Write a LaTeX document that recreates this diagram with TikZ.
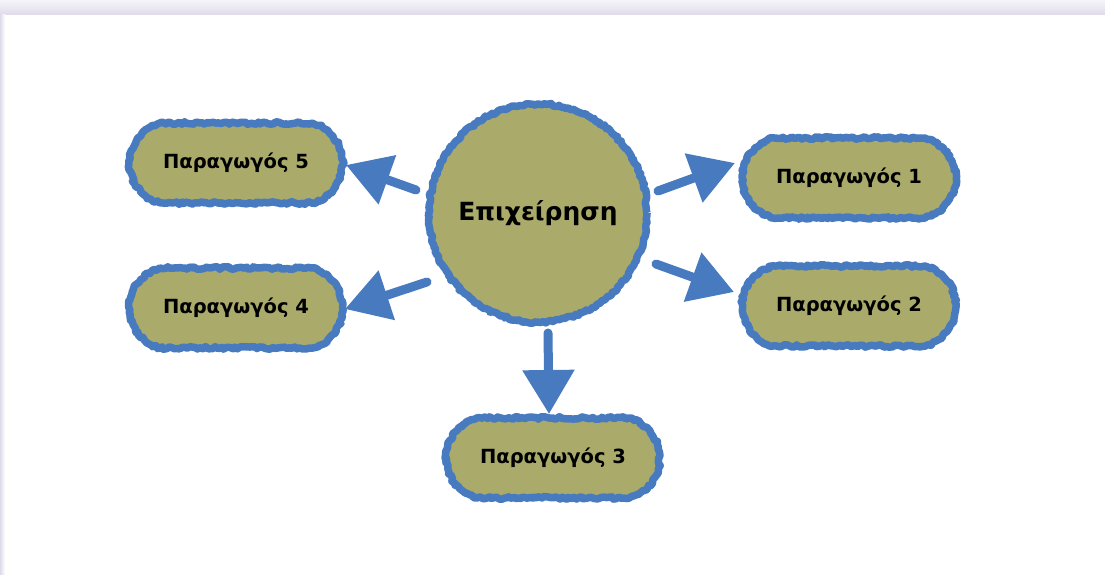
\documentclass[tikz,border=0pt]{standalone}
\usepackage{fontspec}
\setmainfont{DejaVu Sans}
\usetikzlibrary{arrows.meta,decorations.pathmorphing,shapes.misc}
\definecolor{olive}{RGB}{170,171,106}
\definecolor{rblue}{RGB}{72,122,192}
\definecolor{lav}{RGB}{222,218,234}
\definecolor{lavl}{RGB}{246,245,250}
\tikzset{
  rough/.style={decorate,decoration={random steps,segment length=2.5pt,amplitude=1.3pt},line join=round},
  prodbox/.style={rounded rectangle,rounded rectangle arc length=150,minimum width=220pt,minimum height=80pt,fill=olive,draw=rblue,line width=7.5pt,rough,font=\bfseries\fontsize{19.5}{22}\selectfont,text=black},
  hub/.style={circle,minimum size=218pt,fill=olive,draw=rblue,line width=7.5pt,rough,font=\bfseries\fontsize{25}{28}\selectfont,text=black},
  conn/.style={draw=rblue,fill=rblue,line width=9pt,-{Triangle[width=50pt,length=44pt]},line cap=round},
}
\begin{document}
\begin{tikzpicture}[x=1pt,y=-1pt]
\useasboundingbox (0,0) rectangle (1105,575);
\fill[white] (0,0) rectangle (1105,575);
\shade[top color=lavl,bottom color=lav] (0,0) rectangle (1105,15);
\shade[left color=lav,right color=white] (0,15) rectangle (5,575);
% nodes
\node[hub] (c) at (538,213) {Επιχείρηση};
\node[prodbox] (p5) at (236,163) {Παραγωγός 5};
\node[prodbox] (p4) at (236,308) {Παραγωγός 4};
\node[prodbox] (p1) at (849,178) {Παραγωγός 1};
\node[prodbox] (p2) at (849,306) {Παραγωγός 2};
\node[prodbox] (p3) at (553,458) {Παραγωγός 3};
% arrow endpoints
\coordinate (s5) at (416,190); \coordinate (t5) at (346,165);
\coordinate (s4) at (427,282); \coordinate (t4) at (345,309);
\coordinate (s1) at (658,191); \coordinate (t1) at (735,163);
\coordinate (s2) at (656,264); \coordinate (t2) at (734,292);
\coordinate (s3) at (548,333); \coordinate (t3) at (549,414);
\foreach \s/\t in {s5/t5,s4/t4,s1/t1,s2/t2,s3/t3}{
  \draw[conn] (\s) -- (\t);
}
\end{tikzpicture}
\end{document}
